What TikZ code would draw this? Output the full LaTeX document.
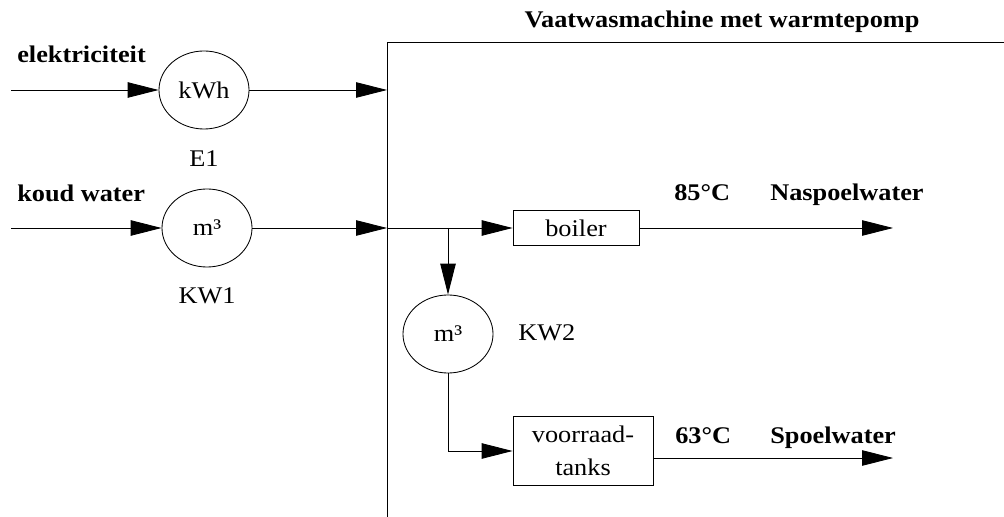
\documentclass[tikz,border=0pt]{standalone}
\usepackage{fontspec}
\setmainfont{Liberation Serif}[FakeStretch=1.1]
\usetikzlibrary{shapes.geometric,arrows.meta}

\tikzset{
	meter/.style={draw, ellipse, line width=0.6pt, minimum width=2.25cm, minimum height=1.95cm, inner sep=0pt, font=\fontsize{17}{20}\selectfont},
	unit/.style={draw, rectangle, line width=0.6pt, inner sep=0pt, align=center, font=\fontsize{17}{23.5}\selectfont},
	lbl/.style={inner sep=0pt, font=\fontsize{17}{20}\selectfont},
	hdr/.style={inner sep=0pt, font=\fontsize{17}{20}\selectfont\bfseries},
	flow/.style={line width=0.6pt, -{Triangle[length=22pt, width=11pt]}}
}

\begin{document}
\begin{tikzpicture}[x=0.025cm, y=-0.025cm]
	\useasboundingbox (0,0) rectangle (1004,517);
	\draw[line width=0.6pt] (387,517) -- (387,42) -- (1004,42);
	\node[hdr, anchor=base] (title) at (722,28) {Vaatwasmachine met warmtepomp};
	\node[hdr, anchor=base west] (elec) at (17,63) {elektriciteit};
	\node[hdr, anchor=base west] (cold) at (17,202) {koud water};
	\node[meter] (E1) at (204,90) {kWh};
	\node[lbl] (E1lbl) at (204,159) {E1};
	\node[meter] (KW1) at (207,228) {m³};
	\node[lbl] (KW1lbl) at (207,296) {KW1};
	\node[meter] (KW2) at (448,334) {m³};
	\node[lbl, anchor=west] (KW2lbl) at (518,333) {KW2};
	\node[unit, minimum width=3.15cm, minimum height=0.875cm] (boiler) at (576,228) {boiler};
	\node[unit, minimum width=3.5cm, minimum height=1.725cm] (tanks) at (583,451) {voorraad-\\tanks};
	\node[hdr, anchor=base west] (T85) at (674,201) {85°C};
	\node[hdr, anchor=base west] (naspoel) at (770,201) {Naspoelwater};
	\node[hdr, anchor=base west] (T63) at (675,443) {63°C};
	\node[hdr, anchor=base west] (spoel) at (770,443) {Spoelwater};
	\coordinate (Ein) at (11,90);
	\coordinate (Win) at (11,228);
	\coordinate (wallE) at (387,90);
	\coordinate (wallW) at (387,228);
	\coordinate (split) at (448,228);
	\coordinate (hotout) at (893,228);
	\coordinate (warmout) at (893,458);
	\draw[flow] (Ein) -- (E1);
	\draw[flow] (E1) -- (wallE);
	\draw[flow] (Win) -- (KW1);
	\draw[flow] (KW1) -- (wallW);
	\draw[flow] (wallW) -- (boiler);
	\draw[flow] (split) -- (KW2);
	\draw[flow] (KW2) |- (tanks);
	\draw[flow] (boiler) -- (hotout);
	\draw[flow] (tanks.east |- warmout) -- (warmout);
\end{tikzpicture}
\end{document}
